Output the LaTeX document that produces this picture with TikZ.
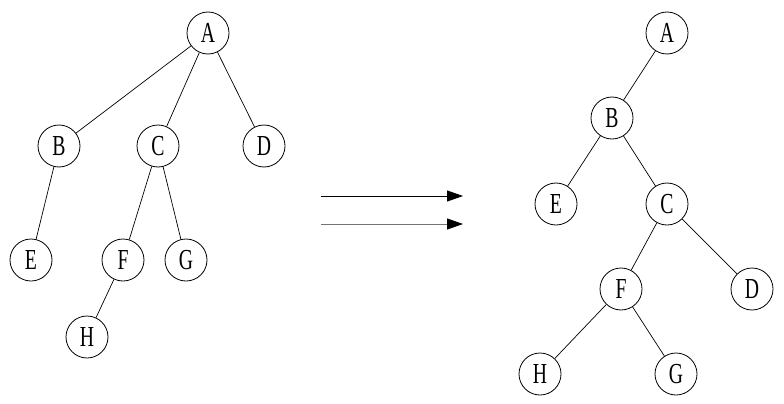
\documentclass[tikz,border=0pt]{standalone}
\usepackage{fontspec}
\setmainfont{Liberation Serif}[FakeStretch=0.68]
\usetikzlibrary{arrows.meta}
\begin{document}
\begin{tikzpicture}[x=1pt,y=-1pt,
  tn/.style={circle,draw,line width=0.8pt,minimum size=42pt,inner sep=0pt,font=\fontsize{29}{29}\selectfont},
  edge/.style={line width=0.7pt},
  conv/.style={line width=0.9pt,-{Triangle[length=16pt,width=11pt]}}]
\useasboundingbox (0,0) rectangle (784,404);
% left tree
\node[tn] (A) at (208,33) {A};
\node[tn] (B) at (59,146) {B};
\node[tn] (C) at (158,146) {C};
\node[tn] (D) at (264,146) {D};
\node[tn] (E) at (31,260) {E};
\node[tn] (F) at (123,260) {F};
\node[tn] (G) at (186,260) {G};
\node[tn] (H) at (87,337) {H};
\draw[edge] (A) -- (B);
\draw[edge] (A) -- (C);
\draw[edge] (A) -- (D);
\draw[edge] (B) -- (E);
\draw[edge] (C) -- (F);
\draw[edge] (C) -- (G);
\draw[edge] (F) -- (H);
% arrows
\coordinate (s1) at (321,196);
\coordinate (t1) at (463,196);
\coordinate (s2) at (321,224);
\coordinate (t2) at (463,224);
\draw[conv] (s1) -- (t1);
\draw[conv,draw=black!55,-{Triangle[length=16pt,width=11pt,color=black]}] (s2) -- (t2);
% right tree
\node[tn] (A2) at (667,33) {A};
\node[tn] (B2) at (612,118) {B};
\node[tn] (E2) at (556,204) {E};
\node[tn] (C2) at (667,204) {C};
\node[tn] (F2) at (621,289) {F};
\node[tn] (D2) at (752,289) {D};
\node[tn] (H2) at (540,374) {H};
\node[tn] (G2) at (676,374) {G};
\draw[edge] (A2) -- (B2);
\draw[edge] (B2) -- (E2);
\draw[edge] (B2) -- (C2);
\draw[edge] (C2) -- (F2);
\draw[edge] (C2) -- (D2);
\draw[edge] (F2) -- (H2);
\draw[edge] (F2) -- (G2);
\end{tikzpicture}
\end{document}
